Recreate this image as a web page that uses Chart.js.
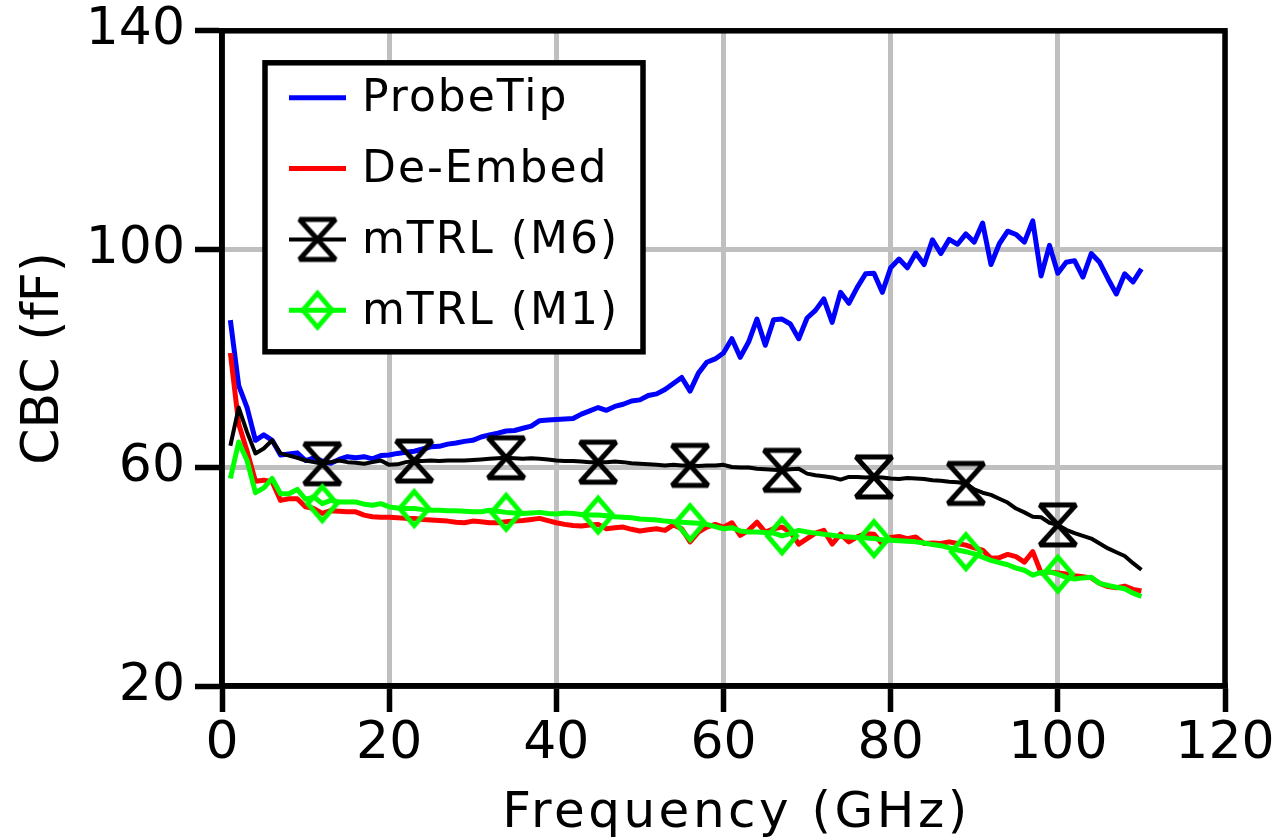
<!DOCTYPE html>
<html>
<head>
<meta charset="utf-8">
<title>CBC vs Frequency</title>
<script src="https://cdn.jsdelivr.net/npm/chart.js@4.4.1/dist/chart.umd.min.js"></script>
<style>
  html, body { margin: 0; padding: 0; background: #fff; }
</style>
</head>
<body>
<canvas id="cbcChart" width="1285" height="840"></canvas>
<script>
"use strict"

// frequency points (GHz)
let freqGHz = [
    1, 2, 3, 4, 5, 6, 7, 8, 9, 10,
    11, 12, 13, 14, 15, 16, 17, 18, 19, 20,
    21, 22, 23, 24, 25, 26, 27, 28, 29, 30,
    31, 32, 33, 34, 35, 36, 37, 38, 39, 40,
    41, 42, 43, 44, 45, 46, 47, 48, 49, 50,
    51, 52, 53, 54, 55, 56, 57, 58, 59, 60,
    61, 62, 63, 64, 65, 66, 67, 68, 69, 70,
    71, 72, 73, 74, 75, 76, 77, 78, 79, 80,
    81, 82, 83, 84, 85, 86, 87, 88, 89, 90,
    91, 92, 93, 94, 95, 96, 97, 98, 99, 100,
    101, 102, 103, 104, 105, 106, 107, 108, 109, 110
];

// CBC in fF
let probeTip = [
    87, 75, 71, 65, 66, 65, 62.3, 62.5, 62.7, 61.3,
    61.8, 61.2, 60.8, 61.5, 62.0, 61.8, 62.0, 61.6, 62.2, 62.3,
    62.6, 62.8, 63.0, 63.4, 63.8, 63.9, 64.3, 64.5, 64.8, 65.0,
    65.6, 66.0, 66.3, 66.7, 66.8, 67.2, 67.6, 68.6, 68.7, 68.8,
    68.9, 69.0, 69.8, 70.4, 71.0, 70.5, 71.2, 71.6, 72.2, 72.4,
    73.2, 73.5, 74.3, 75.4, 76.5, 74.0, 77.3, 79.3, 79.9, 81.0,
    83.6, 80.2, 83.0, 87.2, 82.4, 87.1, 87.2, 86.3, 83.6, 87.4,
    88.8, 90.9, 86.6, 92.1, 90.1, 93.0, 95.5, 95.6, 92.1, 96.6,
    98.2, 96.6, 99.3, 97.2, 101.7, 99.2, 101.8, 100.9, 102.8, 101.3,
    104.8, 97.2, 101.0, 103.3, 102.7, 101.3, 105.2, 95.1, 100.7, 95.6,
    97.6, 97.9, 94.9, 99.2, 97.6, 94.6, 91.8, 95.5, 94.0, 96.4
];

let deEmbed = [
    81, 68, 63, 57.5, 57.7, 57.4, 54.0, 54.3, 54.3, 52.8,
    52.5, 51.6, 52.1, 52.0, 51.9, 51.9, 51.3, 51.0, 50.9, 50.9,
    50.8, 50.7, 50.7, 50.5, 50.4, 50.3, 50.2, 50.0, 49.9, 50.2,
    50.1, 49.9, 49.9, 50.1, 50.2, 50.3, 50.5, 50.7, 50.3, 49.9,
    49.6, 49.4, 49.3, 49.5, 49.6, 48.8, 49.0, 49.1, 48.7, 48.4,
    48.6, 48.8, 48.5, 49.5, 48.8, 46.4, 48.2, 49.1, 49.6, 49.1,
    49.9, 47.6, 48.5, 50.0, 48.2, 48.8, 49.1, 48.2, 46.0, 47.0,
    48.0, 48.5, 46.0, 47.8, 46.4, 47.3, 47.9, 47.8, 46.0, 47.2,
    47.4, 47.0, 47.3, 46.1, 46.2, 46.1, 46.4, 46.1, 45.8, 45.3,
    44.9, 43.4, 43.5, 44.1, 43.7, 42.7, 44.6, 40.7, 40.9, 40.7,
    40.5, 40.2, 40.0, 39.8, 38.8, 38.2, 38.0, 38.3, 37.7, 37.4
];

let mtrlM6 = [
    64, 71, 66.5, 62.6, 63.5, 65, 62.6, 62.2, 61.8, 61.3,
    61.0, 60.7, 61.0, 61.3, 61.0, 60.9, 60.7, 61.0, 61.3, 60.5,
    60.6, 61.0, 61.2, 61.2, 61.3, 61.2, 61.3, 61.3, 61.3, 61.4,
    61.5, 61.6, 61.7, 61.8, 61.7, 61.6, 61.7, 61.6, 61.5, 61.3,
    61.2, 61.2, 61.1, 61.0, 61.0, 61.0, 61.1, 61.0, 60.8, 60.7,
    60.6, 60.5, 60.4, 60.5, 60.4, 60.4, 60.3, 60.4, 60.4, 60.5,
    60.1, 60.0, 60.0, 59.8, 59.7, 59.6, 59.5, 59.7, 59.8, 58.9,
    58.6, 58.4, 58.2, 57.8, 58.3, 58.3, 58.2, 58.3, 58.2, 58.0,
    57.9, 58.1, 58.0, 57.9, 57.7, 57.6, 57.4, 57.3, 57.1, 56.0,
    55.4, 55.0, 54.3, 53.6, 52.5, 51.8, 51.0, 50.9, 49.9, 49.5,
    48.6, 48.0, 47.5, 47.0, 46.1, 45.2, 44.5, 43.8, 42.5, 41.3
];

let mtrlM1 = [
    58, 64.7, 61.3, 55.4, 56.3, 58.0, 55.2, 55.2, 56.0, 54.2,
    54.6, 53.4, 54.0, 53.7, 53.7, 53.7, 53.3, 53.1, 53.4, 52.8,
    52.6, 52.5, 52.5, 52.3, 52.2, 52.2, 52.1, 52.1, 52.0, 51.9,
    51.9, 52.2, 52.0, 51.8, 51.7, 51.6, 51.7, 51.8, 51.6, 51.5,
    51.7, 51.6, 51.4, 51.3, 51.3, 51.2, 51.0, 50.9, 50.8, 50.6,
    50.5, 50.4, 50.2, 50.1, 50.0, 49.9, 49.8, 49.6, 49.2, 48.8,
    49.0, 48.4, 48.2, 48.2, 48.1, 48.0, 47.5, 47.9, 48.5, 48.2,
    48.0, 47.8, 47.6, 47.4, 47.3, 47.2, 47.1, 47.0, 46.8, 46.7,
    46.6, 46.5, 46.4, 46.2, 45.9, 45.7, 45.3, 44.9, 44.6, 44.2,
    43.6, 43.0, 42.6, 42.2, 41.6, 41.2, 40.3, 40.8, 40.9, 40.5,
    39.9, 39.6, 39.8, 39.9, 38.8, 38.4, 38.1, 37.8, 37.0, 36.4
];

// frequencies where the mTRL markers sit
let markerFreqs = [12, 23, 34, 45, 56, 67, 78, 89, 100];

let seriesNames = ['ProbeTip', 'De-Embed', 'mTRL (M6)', 'mTRL (M1)'];
let xTitle = 'Frequency (GHz)';
let yTitle = 'CBC (fF)';

const fontFamily = "'DejaVu Sans', Verdana, sans-serif";
Chart.defaults.font.family = fontFamily;
Chart.defaults.color = '#000';

const axisWidth = 5.5;

function toPoints(values) {
    return freqGHz.map((f, i) => ({ x: f, y: values[i] }));
}

// hourglass marker, two triangles touching at the centre
function makeHourglass() {
    let c = document.createElement('canvas');
    c.width = 46;
    c.height = 50;
    let g = c.getContext('2d');
    g.strokeStyle = '#000';
    g.lineWidth = 5;
    g.lineJoin = 'bevel';
    g.beginPath();
    g.moveTo(5, 5);
    g.lineTo(41, 5);
    g.lineTo(5, 45);
    g.lineTo(41, 45);
    g.closePath();
    g.stroke();
    return c;
}

function makeDiamond() {
    let c = document.createElement('canvas');
    c.width = 42;
    c.height = 50;
    let g = c.getContext('2d');
    g.strokeStyle = '#00ff00';
    g.lineWidth = 5;
    g.lineJoin = 'miter';
    g.beginPath();
    g.moveTo(21, 8);
    g.lineTo(35.5, 25);
    g.lineTo(21, 42);
    g.lineTo(6.5, 25);
    g.closePath();
    g.stroke();
    return c;
}

const hourglass = makeHourglass();
const diamond = makeDiamond();

function markerRadius(ctx) {
    return ctx.raw && markerFreqs.includes(ctx.raw.x) ? 18 : 0;
}

// black frame round the plot area and the spaced out x title
const axesBox = {
    id: 'axesBox',
    afterDraw(chart) {
        let a = chart.chartArea;
        let ctx = chart.ctx;
        ctx.save();
        ctx.strokeStyle = '#000';
        ctx.lineWidth = axisWidth;
        ctx.strokeRect(a.left, a.top, a.right - a.left, a.bottom - a.top);
        ctx.font = '50px ' + fontFamily;
        ctx.fillStyle = '#000';
        ctx.textAlign = 'center';
        ctx.textBaseline = 'alphabetic';
        ctx.letterSpacing = '3.5px';
        ctx.fillText(xTitle, (a.left + a.right) / 2 + 13, a.bottom + 141);
        ctx.restore();
    }
};

// boxed legend in the upper left corner of the plot
const insideLegend = {
    id: 'insideLegend',
    afterDraw(chart) {
        let a = chart.chartArea;
        let ctx = chart.ctx;
        let x0 = a.left + 43;
        let y0 = a.top + 32;
        ctx.save();
        ctx.fillStyle = '#fff';
        ctx.fillRect(x0, y0, 378, 289);
        ctx.strokeStyle = '#000';
        ctx.lineWidth = axisWidth;
        ctx.strokeRect(x0, y0, 378, 289);
        ctx.font = '44px ' + fontFamily;
        ctx.textBaseline = 'middle';
        ctx.letterSpacing = '2px';
        chart.data.datasets.forEach((ds, i) => {
            let cy = y0 + 35 + i * 70.8;
            ctx.strokeStyle = ds.borderColor;
            ctx.lineWidth = ds.borderWidth;
            ctx.beginPath();
            ctx.moveTo(x0 + 24, cy);
            ctx.lineTo(x0 + 81, cy);
            ctx.stroke();
            if (ds.pointStyle && typeof ds.pointStyle === 'object') {
                let img = ds.pointStyle;
                ctx.drawImage(img, x0 + 52.5 - img.width / 2, cy - img.height / 2);
            }
            ctx.fillStyle = '#000';
            ctx.fillText(ds.label, x0 + 97, cy + 2);
        });
        ctx.restore();
    }
};

const data = {
    datasets: [{
        label: seriesNames[0],
        data: toPoints(probeTip),
        borderColor: '#0000ff',
        borderWidth: 5,
        pointRadius: 0,
        order: 3
    }, {
        label: seriesNames[1],
        data: toPoints(deEmbed),
        borderColor: '#ff0000',
        borderWidth: 5,
        pointRadius: 0,
        order: 2
    }, {
        label: seriesNames[2],
        data: toPoints(mtrlM6),
        borderColor: '#000000',
        borderWidth: 4,
        pointStyle: hourglass,
        pointRadius: markerRadius,
        order: 1
    }, {
        label: seriesNames[3],
        data: toPoints(mtrlM1),
        borderColor: '#00ff00',
        borderWidth: 5,
        pointStyle: diamond,
        pointRadius: markerRadius,
        order: 0
    }]
};

const config = {
    type: 'line',
    data: data,
    options: {
        responsive: false,
        animation: false,
        devicePixelRatio: 1,
        layout: {
            padding: { top: 30, right: 60, left: 0, bottom: 0 }
        },
        elements: {
            line: { tension: 0, borderJoinStyle: 'round', fill: false },
            point: { hoverRadius: 0 }
        },
        plugins: {
            legend: { display: false },
            tooltip: { enabled: false }
        },
        scales: {
            x: {
                type: 'linear',
                min: 0,
                max: 120,
                ticks: { stepSize: 20, padding: 6, font: { size: 52, lineHeight: 1 }, color: '#000' },
                grid: { color: '#bfbfbf', lineWidth: 5, tickLength: 26, tickColor: '#000', tickWidth: axisWidth },
                border: { color: '#000', width: axisWidth },
                title: { display: false, text: xTitle },
                afterFit(scale) { scale.height = 154; }
            },
            y: {
                min: 20,
                max: 140,
                ticks: { stepSize: 40, padding: 10, font: { size: 52, lineHeight: 0.8 }, color: '#000' },
                grid: { color: '#bfbfbf', lineWidth: 5, tickLength: 27, tickColor: '#000', tickWidth: axisWidth },
                border: { color: '#000', width: axisWidth },
                title: {
                    display: true,
                    text: yTitle,
                    font: { size: 52 },
                    color: '#000',
                    padding: { top: 13, bottom: 0 }
                },
                afterFit(scale) { scale.width = 222; }
            }
        }
    },
    plugins: [axesBox, insideLegend]
};

let cbcCanvas = document.getElementById('cbcChart');
const cbcChart = new Chart(cbcCanvas, config);
</script>
</body>
</html>
